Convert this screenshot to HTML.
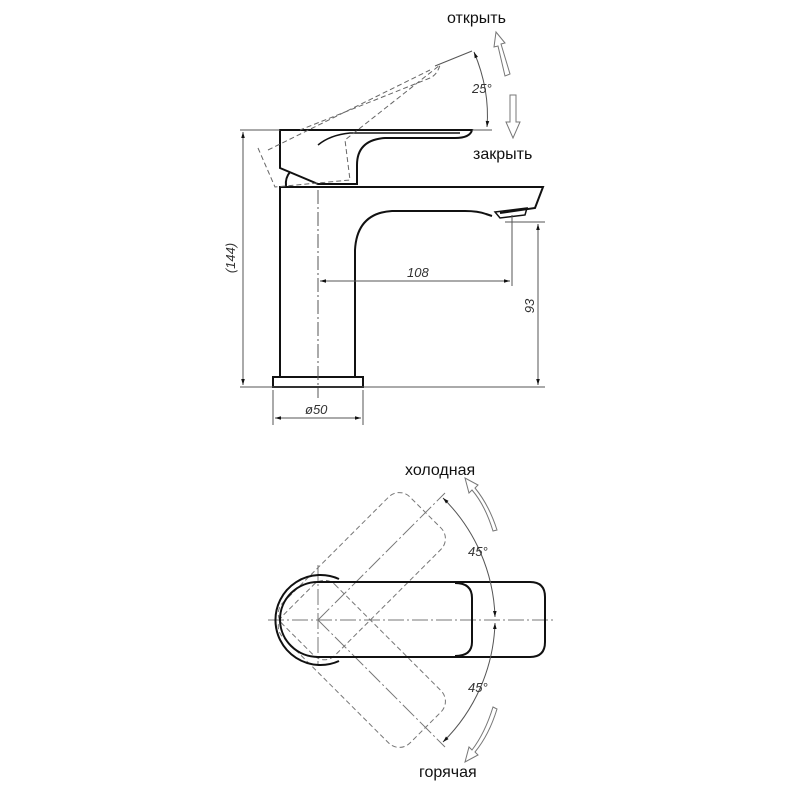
<!DOCTYPE html>
<html><head><meta charset="utf-8"><style>
html,body{margin:0;padding:0;background:#fff;}
svg{display:block;}
text{font-family:"Liberation Sans","DejaVu Sans",sans-serif;}
.it{font-style:italic;font-size:13px;fill:#333;}
</style></head><body>
<svg width="800" height="800" viewBox="0 0 800 800" xmlns="http://www.w3.org/2000/svg">
<defs>
<marker id="ar" viewBox="0 0 10 10" refX="10" refY="5" markerWidth="8" markerHeight="6" orient="auto-start-reverse"><path d="M0,2 L10,5 L0,8 z" fill="#111"/></marker>
</defs>
<!-- SIDE VIEW -->
<g fill="none" stroke="#111" stroke-width="2">
<path d="M280,130 L472,130 Q470,138 455,138 L385,138 Q357,140 357,165 L357,184 L318,184 L280,168 Z"/>
<path d="M318,145 Q330,135 350,133 L460,133" stroke-width="1.5"/>
<path d="M290,172 Q285,178 286,186"/>
<path d="M280,377 L280,187 L543,187 L535,208 L500,213 M492,216 L486,214 Q478,211 465,211 L392,211 Q357,213 355,250 L355,377"/>
<path d="M495,212 L527,208 L525,215 L500,218 Z" stroke-width="1.5"/>
<rect x="273" y="377" width="90" height="10" stroke-width="2"/>
</g>
<g fill="none" stroke="#666" stroke-width="1" stroke-dasharray="5,3">
<path d="M258,148 L275,187 L350,180 L345,140 L440,65 Q437,75 430,78 L300,130"/>
<path d="M268,150 L430,70"/>
</g>
<g stroke="#555" stroke-width="1" fill="none">
<line x1="240" y1="130" x2="280" y2="130"/>
<line x1="240" y1="387" x2="545" y2="387"/>
<line x1="243" y1="132" x2="243" y2="385" marker-start="url(#ar)" marker-end="url(#ar)"/>
<line x1="505" y1="222" x2="545" y2="222"/>
<line x1="538" y1="224" x2="538" y2="385" marker-start="url(#ar)" marker-end="url(#ar)"/>
<line x1="512" y1="215" x2="512" y2="286"/>
<line x1="320" y1="281" x2="510" y2="281" marker-start="url(#ar)" marker-end="url(#ar)"/>
<line x1="273" y1="390" x2="273" y2="425"/>
<line x1="363" y1="390" x2="363" y2="425"/>
<line x1="275" y1="418" x2="361" y2="418" marker-start="url(#ar)" marker-end="url(#ar)"/>
<line x1="318" y1="190" x2="318" y2="398" stroke-dasharray="14,3,2,3"/>
<line x1="472" y1="130" x2="492" y2="130"/>
<line x1="435" y1="66" x2="472" y2="51"/>
<path d="M474,52 Q490,90 487,127" marker-start="url(#ar)" marker-end="url(#ar)"/>
</g>
<g fill="#fff" stroke="#777" stroke-width="1">
<path d="M505,76 L498,46 L494,47 L496,32 L505,43 L501,44 L510,74 Z"/>
<path d="M510,95 L516,95 L516,122 L520,122 L513,138 L506,122 L510,122 Z"/>
</g>
<text x="447" y="23" font-size="16" fill="#111">открыть</text>
<text x="473" y="159" font-size="16" fill="#111">закрыть</text>
<text class="it" x="472" y="93" font-size="15">25°</text>
<text class="it" x="407" y="277">108</text>
<text class="it" x="305" y="414">ø50</text>
<text class="it" transform="translate(538,306) rotate(-90)" text-anchor="middle" dy="-4">93</text>
<text class="it" transform="translate(235,258) rotate(-90)" text-anchor="middle">(144)</text>

<!-- TOP VIEW -->
<g fill="none" stroke="#777" stroke-width="1" stroke-dasharray="5,3">
<rect x="290" y="583" width="180" height="74" rx="15" transform="rotate(-45 318 620)"/>
<rect x="290" y="583" width="180" height="74" rx="15" transform="rotate(45 318 620)"/>
</g>
<g fill="none" stroke="#777" stroke-width="1" stroke-dasharray="16,3,2,3">
<line x1="268" y1="620" x2="555" y2="620"/>
<line x1="318" y1="565" x2="318" y2="665"/>
<line x1="318" y1="620" x2="445" y2="493"/>
<line x1="318" y1="620" x2="445" y2="747"/>
</g>
<g fill="none" stroke="#111" stroke-width="2">
<path d="M339,579 A45,45 0 1 0 339,661"/>
<path d="M318,582 L530,582 Q545,582 545,597 L545,642 Q545,657 530,657 L318,657 A38,37.5 0 0 1 318,582 Z"/>
<path d="M455,583 Q472,583 472,598 L472,642 Q472,656 455,656"/>
</g>
<g fill="none" stroke="#555" stroke-width="1">
<path d="M443,498 A175,175 0 0 1 495,617" marker-start="url(#ar)" marker-end="url(#ar)"/>
<path d="M495,623 A175,175 0 0 1 443,742" marker-start="url(#ar)" marker-end="url(#ar)"/>
</g>
<g fill="#fff" stroke="#777" stroke-width="1">
<path d="M493,531 Q485,505 472,490 L469,493 L465,478 L478,485 L475,488 Q489,505 497,530 Z"/>
<path d="M493,707 L497,709 Q489,735 475,752 L478,755 L465,762 L469,747 L472,750 Q485,733 493,707 Z"/>
</g>
<text class="it" x="468" y="556" font-size="15">45°</text>
<text class="it" x="468" y="692" font-size="15">45°</text>
<text x="405" y="475" font-size="16" fill="#111">холодная</text>
<text x="419" y="777" font-size="16" fill="#111">горячая</text>
</svg>
</body></html>
